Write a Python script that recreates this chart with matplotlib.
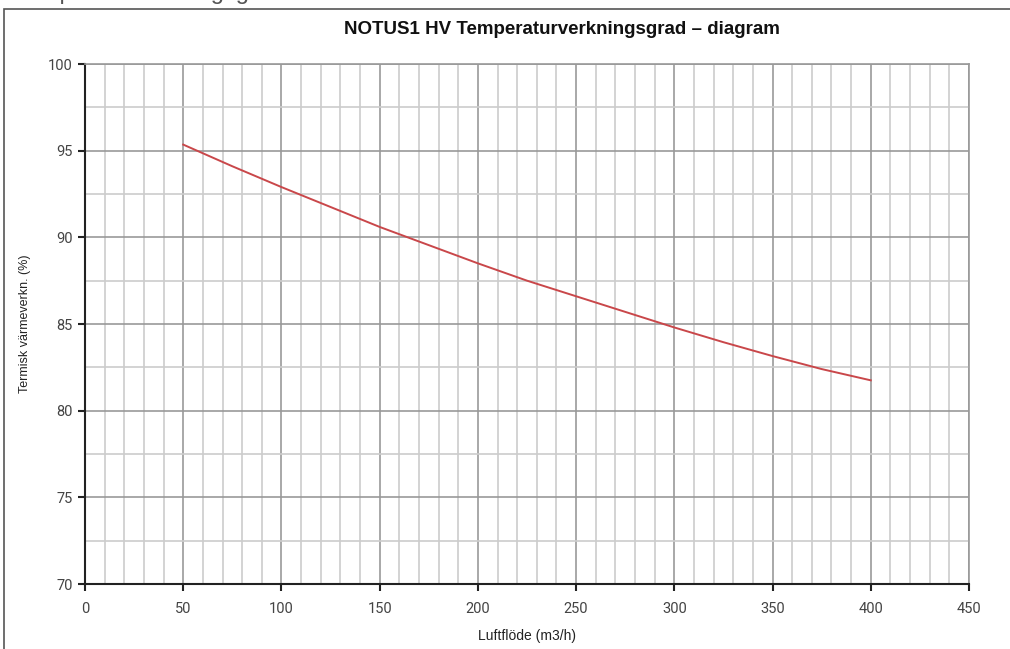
import matplotlib
matplotlib.use("Agg")
import matplotlib.pyplot as plt
from matplotlib.patches import Rectangle
from matplotlib.ticker import MultipleLocator

flow = [50, 75, 100, 125, 150, 175, 200, 225, 250, 275, 300, 325, 350, 375, 400]
efficiency = [95.35, 94.1, 92.9, 91.75, 90.6, 89.55, 88.5, 87.5, 86.6, 85.7, 84.8, 83.95, 83.15, 82.4, 81.75]
x_ticks = [0, 50, 100, 150, 200, 250, 300, 350, 400, 450]
y_ticks = [70, 75, 80, 85, 90, 95, 100]
title = "NOTUS1 HV Temperaturverkningsgrad – diagram"
xlabel = "Luftflöde (m3/h)"
ylabel = "Termisk värmeverkn. (%)"
heading = "Temperaturverkningsgrad"

W, H = 1010, 649
fig = plt.figure(figsize=(W / 100, H / 100), dpi=100)
fig.patch.set_facecolor("white")

# outer frame (partly off canvas)
fig.patches.append(Rectangle((4 / W, -0.05), 1.2, (H - 9) / H + 0.05, transform=fig.transFigure,
                             fill=False, edgecolor="#555555", linewidth=1.2))
# cropped heading above the frame (only descenders visible)
fig.text(16 / W, 1 + 0.5 / H, heading, fontsize=17, color="#555555",
         family=["Liberation Sans", "DejaVu Sans"], ha="left", va="baseline")

ax = fig.add_axes([85 / W, 1 - 584 / H, 884 / W, 520 / H])
ax.plot(flow, efficiency, color="#c9474a", linewidth=1.4, zorder=5)
ax.set_xlim(0, 450)
ax.set_ylim(70, 100)
ax.set_xticks(x_ticks)
ax.set_yticks(y_ticks)
ax.xaxis.set_minor_locator(MultipleLocator(10))
ax.yaxis.set_minor_locator(MultipleLocator(2.5))
ax.grid(which="major", color="#999999", linewidth=1.2)
ax.grid(which="minor", color="#cccccc", linewidth=1.2)
ax.set_axisbelow(True)
for s in ["top", "right"]:
    ax.spines[s].set_color("#999999")
    ax.spines[s].set_linewidth(1.2)
for s in ["left", "bottom"]:
    ax.spines[s].set_color("#222222")
    ax.spines[s].set_linewidth(1.5)
ax.tick_params(which="major", direction="out", length=5, width=1.5, color="#222222",
               labelsize=10.5, labelcolor="#444444", pad=6)
ax.tick_params(which="minor", length=0)
for lab in ax.get_xticklabels() + ax.get_yticklabels():
    lab.set_family(["Roboto", "DejaVu Sans"])
ax.tick_params(axis="x", pad=8)
ax.tick_params(axis="y", pad=4)

fig.text(562 / W, 1 - 30 / H, title, fontsize=13.5, fontweight="bold", ha="center", va="center",
         family=["Liberation Sans", "DejaVu Sans"], color="#111111")
fig.text(527 / W, 1 - 636 / H, xlabel, fontsize=10, ha="center", va="center",
         family=["Liberation Sans", "DejaVu Sans"], color="#222222")
fig.text(25 / W, 1 - 324 / H, ylabel, fontsize=9, ha="center", va="center", rotation=90,
         family=["Liberation Sans", "DejaVu Sans"], color="#222222")

fig.savefig("out.png", dpi=100, facecolor="white")
